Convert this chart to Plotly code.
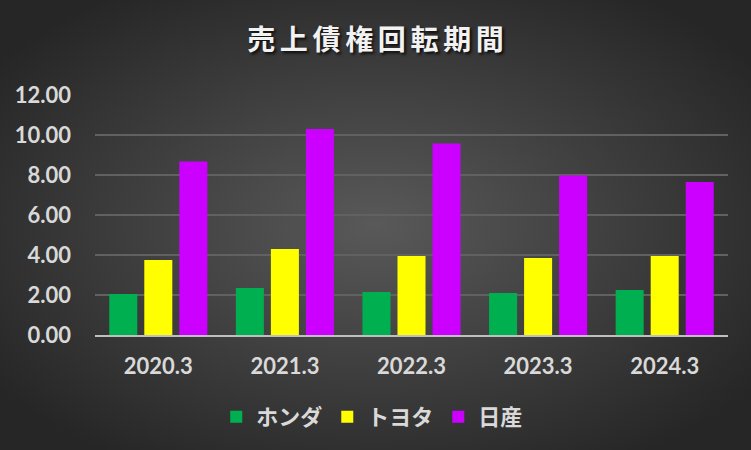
import base64
import plotly.graph_objects as go

categories = ["2020.3", "2021.3", "2022.3", "2023.3", "2024.3"]
honda = [2.05, 2.35, 2.15, 2.10, 2.25]
toyota = [3.75, 4.30, 3.95, 3.85, 3.95]
nissan = [8.67, 10.30, 9.57, 7.98, 7.65]
series_names = ["ホンダ", "トヨタ", "日産"]
series_colors = ["#00B050", "#FFFF00", "#CC00FF"]
tick_vals = [0, 2, 4, 6, 8, 10, 12]
tick_text = ["0.00", "2.00", "4.00", "6.00", "8.00", "10.00", "12.00"]
title_text = "売上債権回転期間"

svg = (
    '<svg xmlns="http://www.w3.org/2000/svg" width="751" height="450">'
    '<defs><radialGradient id="g" cx="50%" cy="50%" r="62%">'
    '<stop offset="0%" stop-color="#595959"/>'
    '<stop offset="100%" stop-color="#262626"/>'
    '</radialGradient></defs>'
    '<rect width="751" height="450" fill="url(#g)"/></svg>'
)
bg_src = "data:image/svg+xml;base64," + base64.b64encode(svg.encode()).decode()

num_font = "Lato, sans-serif"
jp_font = "'Noto Sans CJK JP', sans-serif"

fig = go.Figure()
for name, vals, col in zip(series_names, [honda, toyota, nissan], series_colors):
    fig.add_trace(go.Bar(x=categories, y=vals, name=name, marker_color=col,
                         marker_line_width=0))

fig.update_layout(
    width=751, height=450,
    paper_bgcolor="#3d3d3d",
    plot_bgcolor="rgba(0,0,0,0)",
    margin=dict(l=95, r=23, t=95, b=115),
    barmode="group",
    bargap=0.17,
    bargroupgap=0.2,
    title=dict(text="\u2006".join(title_text), x=0.5, xanchor="center",
               y=1 - 40 / 450, yanchor="middle",
               font=dict(family=jp_font, size=28, color="#F2F2F2", weight="bold",
                         shadow="2px 2px 3px rgba(0,0,0,0.8)")),
    images=[dict(source=bg_src, xref="paper", yref="paper", x=-95 / 633, y=1 + 95 / 240,
                 sizex=751 / 633, sizey=450 / 240, xanchor="left", yanchor="top",
                 sizing="stretch", layer="below")],
    legend=dict(orientation="h", x=0.438, xanchor="center", y=-82 / 240, yanchor="middle",
                font=dict(family=jp_font, size=22, color="#D9D9D9", weight="bold"),
                bgcolor="rgba(0,0,0,0)", itemwidth=30, traceorder="normal"),
    yaxis=dict(range=[0, 12], tickvals=tick_vals, ticktext=tick_text,
               showgrid=True, gridcolor="#616161", gridwidth=2,
               zeroline=False, showline=False,
               tickfont=dict(family=num_font, size=22, color="#D9D9D9", weight="bold"),
               ticklabelstandoff=23),
    xaxis=dict(showline=True, linecolor="#BFBFBF", linewidth=2,
               tickfont=dict(family=num_font, size=22, color="#D9D9D9", weight="bold"),
               ticklabelstandoff=11),
)

fig.write_html("out.html", config={"displayModeBar": False},
               post_script="document.body.style.margin='0';")
